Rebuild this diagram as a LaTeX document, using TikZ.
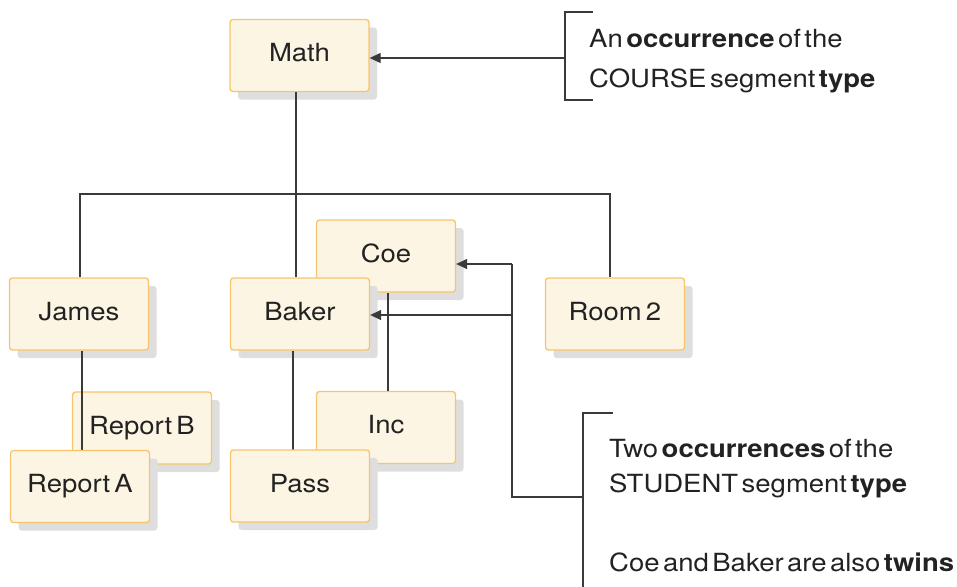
\documentclass[tikz,border=0pt]{standalone}
\usepackage{fontspec}
\setmainfont{TeX Gyre Heros}[WordSpace=0.45,FakeStretch=1.1]
\usetikzlibrary{arrows.meta,shadows}
\definecolor{boxfill}{HTML}{FDF5E3}
\definecolor{boxdraw}{HTML}{F7C46C}
\definecolor{shadowc}{HTML}{DEDEDE}
\definecolor{linec}{HTML}{3A3A3A}
\definecolor{textc}{HTML}{222222}
\tikzset{
  seg/.style={draw=boxdraw, fill=boxfill, line width=1.3pt, rounded corners=3pt,
    minimum width=139pt, minimum height=72pt, inner sep=0pt, text=textc,
    text height=18pt, text depth=6pt,
    font=\fontsize{25}{30}\selectfont,
    drop shadow={shadow xshift=8pt, shadow yshift=-8pt, fill=shadowc, opacity=1}},
  conn/.style={draw=linec, line width=1.3pt},
  arr/.style={conn, -{Triangle[length=11pt,width=10pt]}},
  note/.style={anchor=base west, inner sep=0pt, text=textc, font=\fontsize{25}{30}\selectfont},
}
\begin{document}
\begin{tikzpicture}[x=1pt,y=-1pt]
\useasboundingbox (0,0) rectangle (957,586);
% upper level
\node[seg] (Math) at (299.5,55.5) {Math};
\node[seg] (Coe) at (386,256) {Coe};
\node[seg] (James) at (79,314) {James};
\node[seg] (Baker) at (300,314) {Baker};
\node[seg] (Room) at (615,314) {Room\,2};
% bus connectors
\coordinate (busL) at (80,194);
\coordinate (busR) at (610,194);
\coordinate (mx) at (296,194);
\draw[conn] (James.north -| busL) -- (busL) -- (busR) -- (Room.north -| busR);
\draw[conn] (Math.south -| mx) -- (Baker.north -| mx);
% lower level
\node[seg] (RepB) at (142,428) {Report\,B};
\node[seg] (Inc) at (386,427.5) {Inc};
\coordinate (jx) at (82,400);
\coordinate (bx) at (293,400);
\coordinate (cx) at (388,400);
\draw[conn] (Coe.south -| cx) -- (Inc.north -| cx);
\draw[conn] (James.south -| jx) -- ++(0,100);
\node[seg] (RepA) at (80,486.5) {Report\,A};
\draw[conn] (Baker.south -| bx) -- ++(0,101);
\node[seg] (Pass) at (300,486) {Pass};
% annotation 1
\coordinate (b1) at (565,58);
\draw[conn] (593,12) -- (565,12) -- (565,100) -- (593,100);
\draw[arr] (b1) -- (Math.east |- b1);
\node[note] (n1) at (589,48) {An \textbf{occurrence} of the};
\node[note] (n2) at (589,87) {COURSE segment \textbf{type}};
% annotation 2
\coordinate (v1) at (512,264);
\coordinate (v2) at (512,315);
\coordinate (v3) at (512,497);
\coordinate (b2) at (583,497);
\draw[conn] (v1) -- (v3) -- (b2);
\draw[arr] (v1) -- (Coe.east |- v1);
\draw[arr] (v2) -- (Baker.east |- v2);
\draw[conn] (613,413) -- (583,413) -- (583,592) -- (613,592);
\node[note] (n3) at (609,457) {Two \textbf{occurrences} of the};
\node[note] (n4) at (609,492) {STUDENT segment \textbf{type}};
\node[note] (n5) at (609,571) {Coe and Baker are also \textbf{twins}};
\end{tikzpicture}
\end{document}
